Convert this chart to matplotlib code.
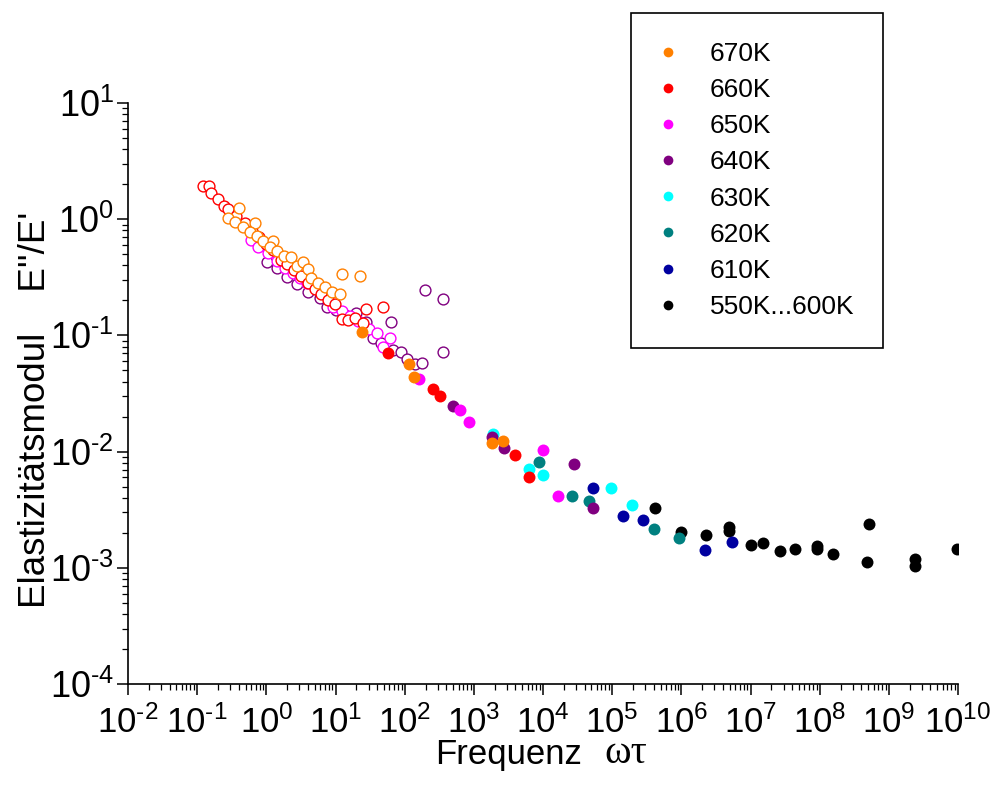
import numpy as np
import matplotlib
matplotlib.use('Agg')
from matplotlib import pyplot as plt
from matplotlib.lines import Line2D
from matplotlib.ticker import LogLocator, NullFormatter, FuncFormatter

plt.rcParams['font.family'] = ['Liberation Sans', 'DejaVu Sans']
plt.rcParams['mathtext.default'] = 'regular'
plt.rcParams['mathtext.fontset'] = 'custom'
plt.rcParams['mathtext.rm'] = 'Liberation Sans'
plt.rcParams['mathtext.it'] = 'Liberation Sans:italic'
plt.rcParams['mathtext.bf'] = 'Liberation Sans:bold'

# open symbols: low frequency part, 670K ... 640K
open_670_x = [0.403, 0.279, 0.353, 0.460, 0.687, 0.581, 0.734, 0.896, 1.25, 1.13, 1.43, 1.80,
              2.28, 2.78, 3.39, 4.01, 4.43, 5.59, 7.06, 8.91, 11.6, 12.4, 22.6]
open_670_y = [1.25, 1.02, 0.946, 0.857, 0.927, 0.776, 0.717, 0.649, 0.649, 0.576, 0.532, 0.482,
              0.473, 0.396, 0.428, 0.373, 0.312, 0.282, 0.261, 0.236, 0.227, 0.338, 0.324]

open_660_x = [0.122, 0.148, 0.159, 0.200, 0.245, 0.279, 0.365, 0.492, 0.621, 0.784, 0.99, 1.25,
              1.63, 1.99, 2.51, 3.17, 4.01, 5.06, 6.18, 7.80, 9.84, 12.4, 15.2, 19.2, 25.0,
              27.6, 48.7]
open_660_y = [1.93, 1.93, 1.68, 1.49, 1.30, 1.22, 1.07, 0.927, 0.791, 0.703, 0.612, 0.543,
              0.446, 0.411, 0.365, 0.324, 0.282, 0.251, 0.227, 0.202, 0.186, 0.138, 0.136,
              0.141, 0.128, 0.169, 0.176]

open_650_x = [0.601, 0.759, 1.06, 1.43, 1.86, 2.43, 3.07, 3.88, 5.06, 6.38, 9.21, 12.4, 16.2,
              21.2, 30.5, 39.8, 61.4, 48.7]
open_650_y = [0.662, 0.576, 0.512, 0.437, 0.380, 0.344, 0.312, 0.282, 0.261, 0.232, 0.176,
              0.162, 0.147, 0.133, 0.114, 0.105, 0.0950, 0.0794]

open_640_x = [1.02, 1.43, 1.99, 2.78, 4.01, 5.97, 7.54, 10.2, 13.7, 19.8, 27.6, 34.9, 45.5,
              63.5, 67.9, 88.6, 108, 141, 178, 197, 359, 359]
open_640_y = [0.428, 0.380, 0.318, 0.277, 0.236, 0.210, 0.176, 0.165, 0.150, 0.156, 0.130,
              0.0950, 0.0860, 0.130, 0.0749, 0.0720, 0.0626, 0.0567, 0.0579, 0.246, 0.206,
              0.0720]

# filled symbols
fill_670_x = [23.9, 115, 136, 1811, 2670]
fill_670_y = [0.108, 0.0567, 0.0438, 0.0119, 0.0124]
fill_660_x = [58, 254, 324, 3937, 6266]
fill_660_y = [0.0702, 0.0343, 0.0301, 0.00936, 0.0060]
fill_650_x = [163, 631, 859, 9890, 16600]
fill_650_y = [0.0419, 0.0228, 0.0179, 0.0103, 0.00418]
fill_640_x = [494, 1849, 2730, 28000, 52000]
fill_640_y = [0.0247, 0.0133, 0.0107, 0.0078, 0.00325]
fill_630_x = [1870, 6340, 10090, 96000, 195000]
fill_630_y = [0.0142, 0.00705, 0.0063, 0.00489, 0.00345]
fill_620_x = [8750, 26500, 46700, 402000, 925000]
fill_620_y = [0.00818, 0.00418, 0.00378, 0.00216, 0.00182]
fill_610_x = [52200, 142000, 282000, 2.17e6, 5.46e6]
fill_610_y = [0.00489, 0.00279, 0.00258, 0.00142, 0.00168]
fill_600_x = [4.16e5, 9.77e5, 2.27e6, 4.93e6, 4.93e6, 1.02e7, 1.53e7, 2.67e7, 4.40e7, 9.14e7,
              9.14e7, 1.56e8, 5.21e8, 4.88e8, 2.39e9, 2.39e9, 9.6e9]
fill_600_y = [0.00327, 0.00203, 0.00190, 0.00224, 0.00207, 0.00157, 0.00164, 0.00140, 0.00144,
              0.00155, 0.00144, 0.00131, 0.00238, 0.00112, 0.00119, 0.00104, 0.00144]

labels = ['670K', '660K', '650K', '640K', '630K', '620K', '610K', '550K...600K']
colors = ['#FF8000', '#FF0000', '#FF00FF', '#800080', '#00FFFF', '#008080', '#0000A0', '#000000']

open_sets = [(open_670_x, open_670_y), (open_660_x, open_660_y),
             (open_650_x, open_650_y), (open_640_x, open_640_y)]
fill_sets = [(fill_670_x, fill_670_y), (fill_660_x, fill_660_y), (fill_650_x, fill_650_y),
             (fill_640_x, fill_640_y), (fill_630_x, fill_630_y), (fill_620_x, fill_620_y),
             (fill_610_x, fill_610_y), (fill_600_x, fill_600_y)]

fig = plt.figure(figsize=(9.94, 7.88), dpi=100)
ax = fig.add_axes([0.1288, 0.1320, 0.8350, 0.7373])

# open circles first, hottest on top
for i in reversed(range(len(open_sets))):
    xs, ys = open_sets[i]
    ax.plot(xs, ys, 'o', ls='none', ms=7.8, mfc='white', mec=colors[i], mew=1.0, zorder=2)

# filled circles, hottest on top
for i in reversed(range(len(fill_sets))):
    xs, ys = fill_sets[i]
    ax.plot(xs, ys, 'o', ls='none', ms=8.6, color=colors[i], mew=0, zorder=3)

ax.set_xscale('log')
ax.set_yscale('log')
ax.set_xlim(1e-2, 1e10)
ax.set_ylim(1e-4, 1e1)


def pow_label(v, pos):
    e = int(round(np.log10(v)))
    s = str(e).replace('-', r'\text{-}')
    return r'$10^{%s}$' % s


def pow_label_plain(v, pos):
    e = int(round(np.log10(v)))
    return r'$10^{%d}$' % e


for axis in [ax.xaxis, ax.yaxis]:
    axis.set_major_locator(LogLocator(base=10, numticks=30))
    axis.set_minor_locator(LogLocator(base=10, subs=np.arange(2, 10), numticks=300))
    axis.set_minor_formatter(NullFormatter())
    axis.set_major_formatter(FuncFormatter(pow_label))

for side in ['top', 'right']:
    ax.spines[side].set_visible(False)
for side in ['left', 'bottom']:
    ax.spines[side].set_linewidth(1.2)

ax.tick_params(which='major', direction='out', length=8, width=1.1, color='black')
ax.tick_params(which='minor', direction='out', length=4, width=0.9, color='black')
ax.tick_params(axis='x', which='major', labelsize=25, pad=7)
ax.tick_params(axis='y', which='major', labelsize=26, pad=2)

# axis titles
ax.text(0.458, -0.122, 'Frequenz', transform=ax.transAxes, ha='center', va='center',
        fontsize=25)
ax.text(0.600, -0.120, 'ωτ', transform=ax.transAxes, ha='center', va='center',
        fontsize=29, family=['Liberation Serif', 'DejaVu Serif'])
ax.text(-0.112, 0.471, "Elastizitätsmodul    E''/E'", transform=ax.transAxes, rotation=90,
        ha='center', va='center', fontsize=26.5)

# legend
handles = [Line2D([], [], marker='o', ls='none', ms=7, color=c, mew=0) for c in colors]
leg = ax.legend(handles, labels, loc='upper left', bbox_to_anchor=(0.6348, 0.9835),
                bbox_transform=fig.transFigure, fontsize=19, frameon=True, fancybox=False,
                framealpha=1, edgecolor='black', borderpad=1.1, labelspacing=0.46,
                handlelength=0.63, handletextpad=1.25, borderaxespad=0)
leg.get_frame().set_linewidth(1.2)

try:
    fig.canvas.draw()
except Exception:
    ax.xaxis.set_major_formatter(FuncFormatter(pow_label_plain))
    ax.yaxis.set_major_formatter(FuncFormatter(pow_label_plain))

fig.savefig('out.png', dpi=100)
